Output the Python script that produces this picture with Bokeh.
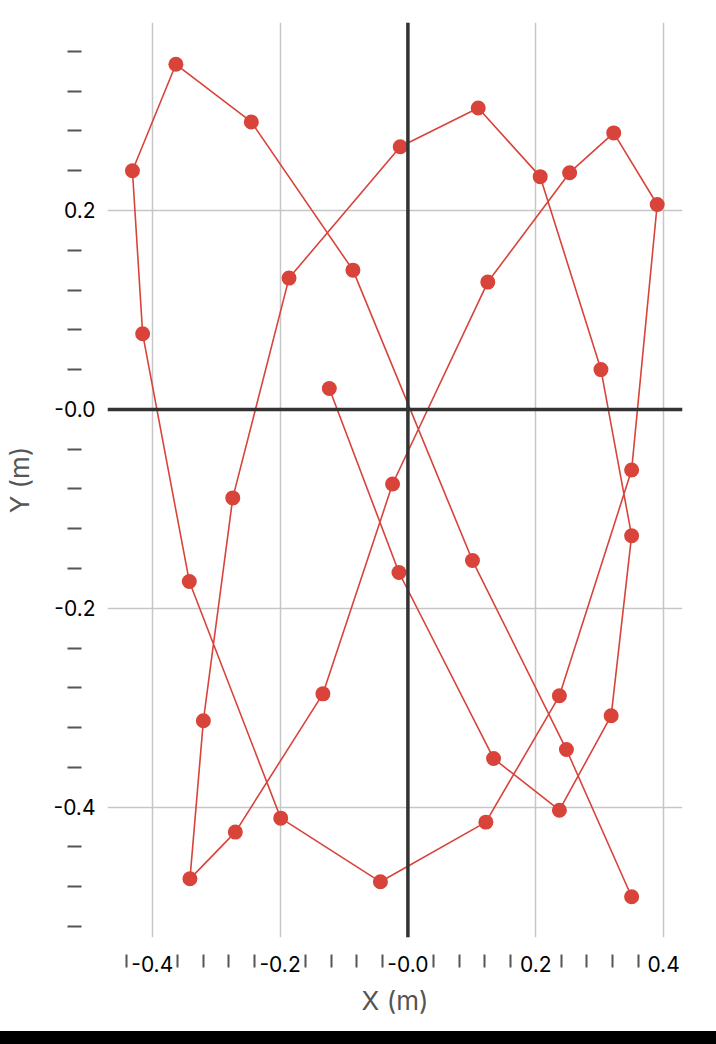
from bokeh.plotting import figure
from bokeh.models import FixedTicker, Span, Range1d, CustomJSTickFormatter
from bokeh.embed import file_html
from bokeh.resources import INLINE

# Data (path order)
xs = [-0.123, -0.014, 0.134, 0.237, 0.318, 0.350, 0.302, 0.207, 0.110, -0.012,
      -0.186, -0.274, -0.320, -0.341, -0.270, -0.133, -0.024, 0.125, 0.253, 0.322,
      0.390, 0.350, 0.237, 0.122, -0.043, -0.199, -0.342, -0.415, -0.431, -0.363,
      -0.245, -0.086, 0.101, 0.248, 0.350]
ys = [0.021, -0.164, -0.351, -0.403, -0.308, -0.127, 0.040, 0.234, 0.303, 0.264,
      0.132, -0.089, -0.313, -0.472, -0.425, -0.286, -0.075, 0.128, 0.238, 0.278,
      0.206, -0.061, -0.288, -0.415, -0.475, -0.411, -0.173, 0.076, 0.240, 0.347,
      0.289, 0.140, -0.152, -0.342, -0.490]

x_major = [-0.4, -0.2, 0.0, 0.2, 0.4]
y_major = [-0.4, -0.2, 0.0, 0.2, 0.4]
x_minor = [-0.44, -0.36, -0.32, -0.28, -0.24, -0.16, -0.12, -0.08, -0.04,
           0.04, 0.08, 0.12, 0.16, 0.24, 0.28, 0.32, 0.36]
y_minor = [0.36, 0.32, 0.28, 0.24, 0.16, 0.12, 0.08, 0.04, -0.04, -0.08, -0.12,
           -0.16, -0.24, -0.28, -0.32, -0.36, -0.44, -0.48, -0.52]

RED = "#d8433a"
FONT = "Inter"

p = figure(width=716, height=1030, output_backend="svg", toolbar_location=None,
           x_range=Range1d(-0.470, 0.4296), y_range=Range1d(-0.531, 0.389),
           min_border_left=104, min_border_right=34, min_border_top=22, min_border_bottom=93,
           x_axis_label="X (m)", y_axis_label="Y (m)")
p.outline_line_color = None
p.background_fill_color = "white"
p.border_fill_color = "white"

fmt = CustomJSTickFormatter(code="return Math.abs(tick) < 1e-9 ? '-0.0' : tick.toFixed(1);")

p.xaxis.ticker = FixedTicker(ticks=x_major, minor_ticks=x_minor)
p.yaxis.ticker = FixedTicker(ticks=y_major, minor_ticks=y_minor)
for ax in (p.xaxis, p.yaxis):
    ax.formatter = fmt
    ax.axis_line_color = None
    ax.major_tick_line_color = None
    ax.major_tick_in = 0
    ax.major_tick_out = 0
    ax.minor_tick_line_color = "#555555"
    ax.minor_tick_line_width = 2
    ax.major_label_text_font = FONT
    ax.major_label_text_font_size = "21px"
    ax.major_label_text_color = "#000000"
    ax.axis_label_text_font = FONT
    ax.axis_label_text_font_size = "26px"
    ax.axis_label_text_font_style = "normal"
    ax.axis_label_text_color = "#555555"

p.xaxis.minor_tick_in = -17
p.xaxis.minor_tick_out = 30
p.xaxis.major_label_standoff = -12
p.xaxis.axis_label_standoff = 10
p.yaxis.minor_tick_in = -26
p.yaxis.minor_tick_out = 40
p.yaxis.major_label_standoff = -28
p.yaxis.axis_label_standoff = 16

p.grid.grid_line_color = "#c6c6c6"
p.grid.grid_line_width = 1.5

p.add_layout(Span(location=0, dimension="height", line_color="#333333", line_width=3.5))
p.add_layout(Span(location=0, dimension="width", line_color="#333333", line_width=3.5))

p.line(xs, ys, line_color=RED, line_width=1.6)
p.scatter(xs, ys, size=15, fill_color=RED, line_color=RED, line_width=0)

template = """
{% block postamble %}
<style>
body::after { content: ""; position: fixed; left: 0; bottom: 0; width: 100%; height: 13px; background: #000; }
</style>
{% endblock %}
"""

open("out.html", "w").write(file_html(p, INLINE, template=template))
